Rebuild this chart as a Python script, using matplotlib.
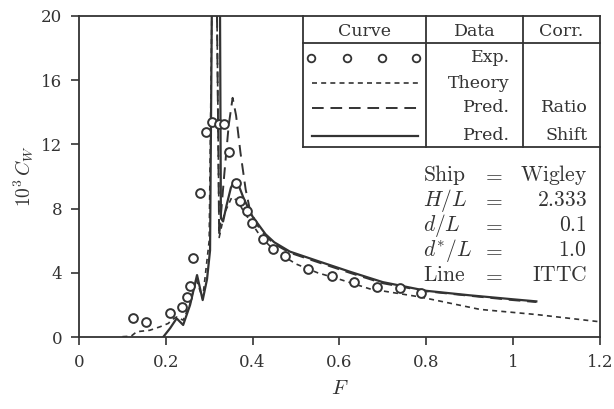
import numpy as np
import matplotlib.pyplot as plt
from matplotlib.lines import Line2D

plt.rcParams['font.family'] = 'DejaVu Serif'
plt.rcParams['mathtext.fontset'] = 'cm'

# experimental points
exp_F = [0.124, 0.154, 0.210, 0.237, 0.250, 0.256, 0.263, 0.279, 0.292, 0.307,
         0.323, 0.335, 0.346, 0.361, 0.372, 0.386, 0.399, 0.424, 0.447, 0.474,
         0.528, 0.582, 0.633, 0.686, 0.739, 0.789]
exp_C = [1.18, 0.93, 1.50, 1.89, 2.50, 3.20, 4.94, 8.95, 12.8, 13.4,
         13.3, 13.3, 11.5, 9.6, 8.5, 7.87, 7.08, 6.1, 5.5, 5.05,
         4.26, 3.78, 3.40, 3.13, 3.03, 2.76]

# theory (short dash)
th_F = [0.100, 0.120, 0.133, 0.163, 0.187, 0.206, 0.213, 0.225, 0.240, 0.255, 0.270,
        0.285, 0.300, 0.306, 0.312, 0.318, 0.323, 0.335, 0.352, 0.365, 0.380,
        0.400, 0.420, 0.450, 0.500, 0.550, 0.600, 0.670, 0.785, 0.924, 1.054, 1.200]
th_C = [0.02, 0.05, 0.33, 0.42, 0.64, 0.85, 1.06, 1.25, 1.05, 2.0, 3.6,
        2.4, 6.0, 20.0, 30.0, 20.0, 6.2, 7.7, 8.7, 8.5, 7.8,
        7.0, 6.2, 5.4, 4.55, 4.0, 3.6, 3.0, 2.5, 1.72, 1.4, 0.95]

# prediction, ratio correction (long dash)
rt_F = [0.318, 0.323, 0.335, 0.345, 0.354, 0.362, 0.372, 0.384, 0.394, 0.410,
        0.430, 0.450, 0.486, 0.555, 0.624, 0.700, 0.800, 0.900, 1.000, 1.054]
rt_C = [20.0, 6.3, 10.2, 13.2, 14.9, 13.8, 11.5, 9.2, 7.9, 7.0,
        6.3, 5.8, 5.25, 4.62, 4.0, 3.35, 2.85, 2.57, 2.3, 2.18]

# prediction, shift correction (solid)
sh_F = [0.194, 0.210, 0.225, 0.240, 0.256, 0.272, 0.285, 0.295, 0.302, 0.306, 0.311,
        0.318, 0.325, 0.327, 0.332, 0.340, 0.350, 0.359, 0.370, 0.380, 0.400,
        0.430, 0.450, 0.486, 0.555, 0.624, 0.700, 0.800, 0.900, 1.000, 1.054]
sh_C = [0.0, 0.55, 1.16, 0.75, 2.0, 3.86, 2.3, 3.6, 5.4, 20.0, 30.0,
        30.0, 20.0, 7.4, 7.2, 8.2, 9.3, 9.75, 9.3, 8.6, 7.5,
        6.4, 5.9, 5.32, 4.69, 4.07, 3.42, 2.88, 2.6, 2.35, 2.22]

fig = plt.figure(figsize=(6.14, 4.09), dpi=100)
ax = fig.add_axes([0.1287, 0.176, 0.848, 0.785])

lc = '#333333'
ax.plot(th_F, th_C, color=lc, lw=1.2, dashes=(3, 2.5))
ax.plot(rt_F, rt_C, color=lc, lw=1.4, dashes=(6, 3.5))
ax.plot(sh_F, sh_C, color=lc, lw=1.6)
ax.plot(exp_F, exp_C, 'o', mfc='white', mec=lc, mew=1.4, ms=6.3, ls='none')

ax.set_xlim(0, 1.2)
ax.set_ylim(0, 20)
ax.set_xticks([0, 0.2, 0.4, 0.6, 0.8, 1.0, 1.2])
ax.set_xticklabels(['0', '0.2', '0.4', '0.6', '0.8', '1', '1.2'])
ax.set_yticks([0, 4, 8, 12, 16, 20])
ax.tick_params(direction='out', length=6, width=1.2, labelsize=12, colors=lc, pad=6)
for s in ax.spines.values():
    s.set_linewidth(1.3)
    s.set_color(lc)

ax.set_xlabel('$F$', fontsize=15, color=lc, labelpad=6)
ax.set_ylabel('$10^3\\,C_W$', fontsize=14, color=lc, labelpad=4)

# legend table drawn in figure pixel coords
W, H = 614, 409
def fx(px):
    return px / W
def fy(py):
    return 1 - py / H

tr = fig.transFigure
box_l, box_r, box_t, box_b = 303, 600, 16, 147
col1, col2 = 426, 523
hdr = 43
for xs, ys in [([box_l, box_l], [box_t, box_b]), ([box_l, box_r], [box_b, box_b]),
               ([col1, col1], [box_t, box_b]), ([col2, col2], [box_t, box_b]),
               ([box_l, box_r], [hdr, hdr])]:
    fig.add_artist(Line2D([fx(x) for x in xs], [fy(y) for y in ys], color=lc, lw=1.3,
                          transform=tr))

tkw = dict(transform=tr, fontsize=12.5, color=lc, va='center')
fig.text(fx((box_l + col1) / 2), fy(31), 'Curve', ha='center', **tkw)
fig.text(fx((col1 + col2) / 2), fy(31), 'Data', ha='center', **tkw)
fig.text(fx((col2 + box_r) / 2), fy(31), 'Corr.', ha='center', **tkw)

rows_y = [58, 83, 108, 136]
row_data = ['Exp.', 'Theory', 'Pred.', 'Pred.']
row_corr = ['', '', 'Ratio', 'Shift']
for y, d, c in zip(rows_y, row_data, row_corr):
    fig.text(fx(510), fy(y), d, ha='right', **tkw)
    if c:
        fig.text(fx(588), fy(y), c, ha='right', **tkw)

fig.add_artist(Line2D([fx(x) for x in [311, 347, 382, 416]], [fy(58)] * 4, ls='none',
                      marker='o', mfc='white', mec=lc, mew=1.3, ms=5.5, transform=tr))
fig.add_artist(Line2D([fx(312), fx(418)], [fy(83)] * 2, color=lc, lw=1.2, dashes=(3, 2.5),
                      transform=tr))
fig.add_artist(Line2D([fx(312), fx(418)], [fy(108)] * 2, color=lc, lw=1.4, dashes=(6, 3.5),
                      transform=tr))
fig.add_artist(Line2D([fx(312), fx(418)], [fy(136)] * 2, color=lc, lw=1.6, transform=tr))

# parameter block
par_l = ['$\\mathrm{Ship}$', '$H/L$', '$d/L$', '$d^{*}/L$', '$\\mathrm{Line}$']
par_r = ['$\\mathrm{Wigley}$', '$2.333$', '$0.1$', '$1.0$', '$\\mathrm{ITTC}$']
par_y = [175, 200, 225, 250, 275]
pkw = dict(transform=tr, fontsize=15.5, color=lc, va='center')
for y, a, b in zip(par_y, par_l, par_r):
    fig.text(fx(423), fy(y), a, ha='left', **pkw)
    fig.text(fx(493), fy(y), '$=$', ha='center', **pkw)
    fig.text(fx(587), fy(y), b, ha='right', **pkw)

fig.savefig('out.png', dpi=100)
